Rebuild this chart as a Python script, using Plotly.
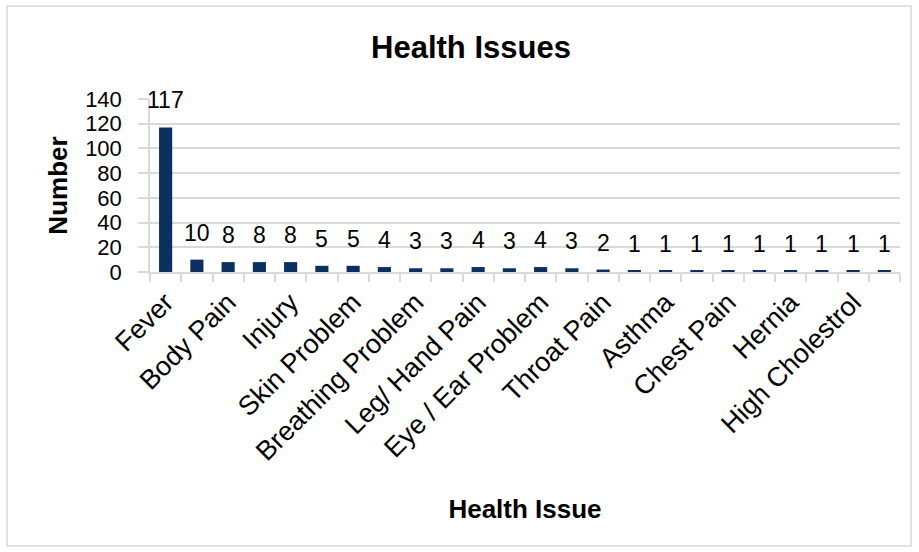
import plotly.graph_objects as go

# ---- data ----
categories = ["Fever", None, "Body Pain", None, "Injury", None, "Skin Problem", None,
              "Breathing Problem", None, "Leg/ Hand Pain", None, "Eye / Ear Problem", None,
              "Throat Pain", None, "Asthma", None, "Chest Pain", None, "Hernia", None,
              "High Cholestrol", None]
values = [117, 10, 8, 8, 8, 5, 5, 4, 3, 3, 4, 3, 4, 3, 2, 1, 1, 1, 1, 1, 1, 1, 1, 1]
y_ticks = [0, 20, 40, 60, 80, 100, 120, 140]

title_text = "Health Issues"
x_title = "Health Issue"
y_title = "Number"

FONT = "Liberation Sans, Arial, sans-serif"
BAR = "#0b2f5e"
GRID = "#d9d9d9"

positions = list(range(len(values)))
tick_pos = [p for p, c in zip(positions, categories) if c]
tick_txt = [c for c in categories if c]

fig = go.Figure()
fig.add_trace(go.Bar(x=positions, y=values, marker=dict(color=BAR, line=dict(width=0)),
                     hoverinfo="x+y"))

for p, v in zip(positions, values):
    fig.add_annotation(x=p, y=v, text=str(v), showarrow=False, yanchor="bottom",
                       yshift=12, font=dict(family=FONT, size=23, color="#000000"))

W, H = 919, 552
ml, mr, mt, mb = 150, 19, 99, 280

fig.update_layout(
    width=W, height=H,
    margin=dict(l=ml, r=mr, t=mt, b=mb, autoexpand=False),
    paper_bgcolor="white", plot_bgcolor="white",
    bargap=0.58,
    showlegend=False,
    title=dict(text="<b>%s</b>" % title_text, x=471 / W, xanchor="center",
               y=1 - 47 / H, yanchor="middle", yref="container",
               font=dict(family=FONT, size=31, color="#000000")),
    xaxis=dict(
        range=[-0.5, len(values) - 0.5], automargin=False,
        tickmode="array", tickvals=tick_pos, ticktext=tick_txt,
        tickangle=-45, ticks="", ticklabelstandoff=2,
        tickfont=dict(family=FONT, size=27, color="#000000"),
        showgrid=False, zeroline=False,
        showline=True, linecolor=GRID, linewidth=1.5,
        minor=dict(tickmode="linear", tick0=-0.5, dtick=1, ticks="outside",
                   ticklen=8, tickwidth=1.5, tickcolor=GRID, showgrid=False),
        title=dict(text="<b>%s</b>" % x_title, standoff=34,
                   font=dict(family=FONT, size=26, color="#000000")),
    ),
    yaxis=dict(
        range=[0, 140], tickmode="array", tickvals=y_ticks, automargin=False,
        ticks="outside", ticklen=10, tickwidth=1.5, tickcolor=GRID,
        tickfont=dict(family=FONT, size=22, color="#000000"),
        ticklabelstandoff=12,
        showgrid=True, gridcolor=GRID, gridwidth=1.5,
        zeroline=False, showline=True, linecolor=GRID, linewidth=1.5,
        title=dict(text="<b>%s</b>" % y_title, standoff=10,
                   font=dict(family=FONT, size=26, color="#000000")),
    ),
)

pw, ph = W - ml - mr, H - mt - mb
fig.add_shape(type="rect", xref="paper", yref="paper",
              x0=(7 - ml) / pw, x1=(911 - ml) / pw,
              y0=(H - mb - 546) / ph, y1=(H - mb - 6) / ph,
              line=dict(color=GRID, width=1.5), fillcolor="rgba(0,0,0,0)", layer="below")

fig.write_html("out.html", config={"displayModeBar": False},
               post_script="document.body.style.margin='0';")
